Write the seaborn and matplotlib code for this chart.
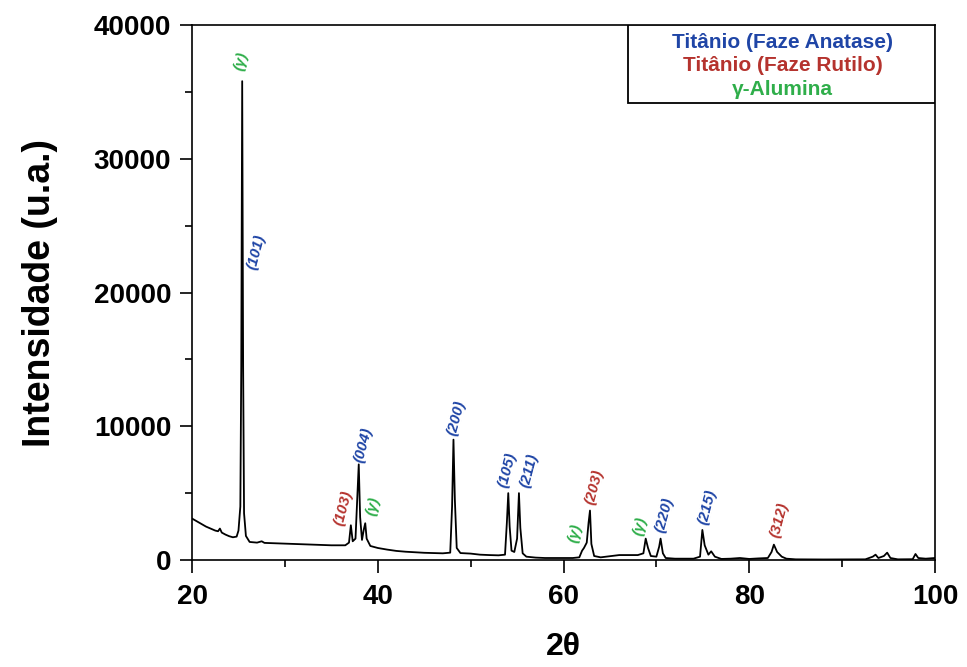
import matplotlib
matplotlib.use("Agg")
import matplotlib.pyplot as plt
from matplotlib.patches import Rectangle
from matplotlib.ticker import MultipleLocator
import seaborn as sns
import pandas as pd

# ---- data ----
two_theta = [20.0, 20.5, 21.0, 21.5, 22.0, 22.5, 22.8, 23.0, 23.2, 23.6, 24.0, 24.4, 24.8,
             25.0, 25.2, 25.3, 25.4, 25.5, 25.6, 25.8, 26.2, 27.0, 27.5, 27.8, 29.0, 31.0,
             33.0, 35.0, 36.5, 36.9, 37.1, 37.3, 37.6, 37.8, 37.95, 38.1, 38.3, 38.5, 38.65,
             38.8, 39.2, 40.0, 41.0, 42.0, 43.0, 44.0, 45.0, 46.0, 47.0, 47.8, 48.0, 48.15,
             48.3, 48.5, 48.9, 50.0, 51.0, 52.0, 53.0, 53.7, 53.9, 54.05, 54.2, 54.4, 54.7,
             55.0, 55.2, 55.35, 55.6, 56.0, 57.0, 58.0, 60.0, 61.0, 61.7, 62.0, 62.2, 62.5,
             62.7, 62.85, 63.0, 63.3, 64.0, 66.0, 68.0, 68.6, 68.85, 69.1, 69.4, 70.0, 70.3,
             70.45, 70.7, 71.0, 72.0, 74.0, 74.7, 74.95, 75.2, 75.6, 75.9, 76.3, 77.0, 78.0,
             79.0, 80.0, 81.0, 82.0, 82.4, 82.65, 83.0, 83.5, 84.0, 85.0, 88.0, 92.5, 93.3,
             93.6, 93.9, 94.5, 94.85, 95.2, 96.0, 97.6, 97.9, 98.2, 99.0, 100.0]
intensity = [3100, 2900, 2700, 2500, 2350, 2200, 2150, 2350, 2050, 1900, 1780, 1700, 1750,
             2200, 4000, 14500, 35800, 14500, 3500, 1800, 1350, 1300, 1400, 1280, 1250, 1200,
             1150, 1100, 1100, 1300, 2600, 1400, 1600, 4800, 7150, 3200, 1500, 2300, 2750,
             1600, 1050, 900, 780, 680, 620, 580, 540, 520, 500, 550, 4000, 9000,
             4500, 900, 520, 480, 400, 370, 350, 400, 2800, 5000, 2500, 700, 600,
             1600, 5000, 2400, 500, 250, 180, 150, 150, 150, 200, 700, 900, 1300,
             2800, 3700, 1200, 300, 200, 370, 370, 500, 1600, 900, 300, 250, 1000,
             1600, 500, 150, 100, 100, 250, 2250, 1100, 400, 650, 250, 80, 100,
             150, 80, 120, 150, 600, 1150, 600, 250, 100, 50, 40, 50, 250,
             400, 150, 300, 550, 150, 50, 60, 450, 150, 100, 150]

peak_labels = ["(γ)", "(101)", "(103)", "(004)", "(γ)", "(200)", "(105)", "(211)",
               "(γ)", "(203)", "(γ)", "(220)", "(215)", "(312)"]
label_x = [25.3, 26.9, 36.3, 38.4, 39.5, 48.5, 53.9, 56.3, 61.2, 63.3, 68.2, 70.9, 75.5, 83.2]
label_y = [37300, 23000, 3900, 8600, 4000, 10600, 6700, 6700, 2000, 5500, 2500, 3400, 4000, 3000]
label_phase = ["g", "a", "r", "a", "g", "a", "a", "a", "g", "r", "g", "a", "a", "r"]

legend_lines = ["Titânio (Faze Anatase)", "Titânio (Faze Rutilo)", "γ-Alumina"]
legend_phase = ["a", "r", "g"]

x_ticks = [20, 40, 60, 80, 100]
y_ticks = [0, 10000, 20000, 30000, 40000]

# ---- styling ----
phase_colors = {"a": "#1f45a6", "r": "#b5332e", "g": "#2fae4a"}

sns.set_style("ticks")
plt.rcParams["font.family"] = ["Liberation Sans", "DejaVu Sans"]
plt.rcParams["font.weight"] = "bold"
plt.rcParams["text.color"] = "black"
plt.rcParams["axes.labelcolor"] = "black"

fig = plt.figure(figsize=(9.67, 6.67), dpi=100)
ax = fig.add_axes([0.1986, 0.1604, 0.7683, 0.8021])

df = pd.DataFrame({"two_theta": two_theta, "intensity": intensity})
sns.lineplot(data=df, x="two_theta", y="intensity", color="black", linewidth=1.3,
             sort=False, estimator=None, ax=ax)

ax.set_xlim(20, 100)
ax.set_ylim(0, 40000)
ax.set_xticks(x_ticks)
ax.set_yticks(y_ticks)
ax.xaxis.set_minor_locator(MultipleLocator(10))
ax.yaxis.set_minor_locator(MultipleLocator(5000))
ax.set_xticklabels([str(v) for v in x_ticks], fontsize=20, fontweight="bold", color="black")
ax.set_yticklabels([str(v) for v in y_ticks], fontsize=20, fontweight="bold", color="black")
ax.tick_params(which="major", direction="out", length=9, width=1.2, pad=6, colors="black")
ax.tick_params(axis="x", which="major", pad=8)
ax.tick_params(which="minor", direction="out", length=5, width=1.2, colors="black")
for sp in ax.spines.values():
    sp.set_linewidth(1.2)
    sp.set_color("black")

ax.set_xlabel("2θ", fontsize=23, fontweight="bold", labelpad=16, color="black")
ax.set_ylabel("Intensidade (u.a.)", fontsize=27, fontweight="bold", labelpad=26, color="black")

for txt, lx, ly, ph in zip(peak_labels, label_x, label_y, label_phase):
    ax.text(lx, ly, txt, color=phase_colors[ph], fontsize=11, fontweight="bold",
            fontstyle="italic", rotation=75, ha="center", va="center")

ax.add_patch(Rectangle((0.587, 0.854), 0.413, 0.146, transform=ax.transAxes,
                       facecolor="white", edgecolor="black", linewidth=1.3, zorder=5))
for i, (txt, ph) in enumerate(zip(legend_lines, legend_phase)):
    ax.text(0.795, 0.968 - i * 0.0445, txt, transform=ax.transAxes, color=phase_colors[ph],
            fontsize=15, fontweight="bold", ha="center", va="center", zorder=6)

fig.savefig("out.png", dpi=100)
